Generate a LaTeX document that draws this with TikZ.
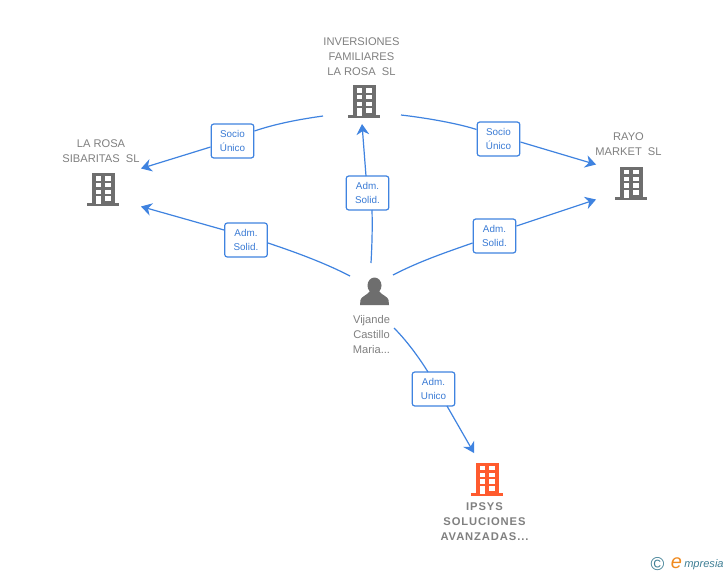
\documentclass[tikz,border=0pt]{standalone}
\usepackage{fontspec}
\setmainfont{Liberation Sans}
\usetikzlibrary{arrows.meta}
\definecolor{linkblue}{HTML}{3F83E0}
\definecolor{labblue}{HTML}{3A7BD5}
\definecolor{icongrey}{HTML}{6E6E6E}
\definecolor{txtgrey}{HTML}{808080}
\definecolor{iconred}{HTML}{FF5B2E}
\definecolor{logoteal}{HTML}{3F7F95}
\definecolor{logoorange}{HTML}{F08A1E}
\tikzset{
  x=0.75pt,y=-0.75pt,
  link/.style={draw=linkblue,line width=0.9pt},
  linkarrow/.style={link,-{Stealth[length=8pt,width=9.5pt,inset=2.6pt]}},
  labbox/.style={draw=linkblue,fill=white,rounded corners=2pt,line width=0.9pt,minimum width=32pt,minimum height=25.5pt,inner sep=0pt,align=center,text=labblue,font=\fontsize{7.4}{11.2}\selectfont,execute at begin node={\rule{0pt}{7pt}}},
  nametext/.style={align=center,text=txtgrey,inner sep=0pt,font=\fontsize{8.35}{11.3}\selectfont},
  boldtext/.style={align=center,text=txtgrey,inner sep=0pt,font=\fontsize{8.4}{11.3}\selectfont\bfseries\addfontfeature{LetterSpace=8}},
  iconbox/.style={minimum width=24pt,minimum height=26pt,inner sep=0pt},
  pics/building/.style={code={
    \fill[#1] (-11.5,-16) rectangle (11.5,15);
    \fill[#1] (-16,14) rectangle (16,17);
    \foreach \yy in {-12.7,-6,0.7}{
      \fill[white] (-7.5,\yy) rectangle (-2,\yy+4.4);
      \fill[white] (2,\yy) rectangle (7.5,\yy+4.4);
    }
    \fill[white] (-7.5,7.3) rectangle (-2,15);
    \fill[white] (2,7.3) rectangle (7.5,12.3);
  }},
}
\begin{document}
\begin{tikzpicture}
\useasboundingbox (0,0) rectangle (728,575);
\fill[white] (0,0) rectangle (728,575);

% icons
\pic at (364,101) {building=icongrey};
\pic at (103,189) {building=icongrey};
\pic at (631,182.5) {building=icongrey};
\pic at (487,478.5) {building=iconred};
\fill[icongrey] (374.5,285.5) ellipse (7 and 8);
\fill[icongrey] (360,305) -- (360.5,300) .. controls (361,296.5) and (367,295.5) .. (370,291) -- (379,291) .. controls (382,295.5) and (388,296.5) .. (388.5,300) -- (389,305) -- cycle;

\node[iconbox] (inv) at (364,101) {};
\node[iconbox] (lar) at (103,189) {};
\node[iconbox] (ray) at (631,182.5) {};
\node[iconbox] (ips) at (487,478.5) {};
\node[iconbox] (per) at (374,291) {};

% names
\node[nametext] (tinv) at (361.5,56.5) {INVERSIONES\\FAMILIARES\\LA ROSA\ \ SL};
\node[nametext] (tlar) at (101,151) {LA ROSA\\SIBARITAS\ \ SL};
\node[nametext] (tray) at (628.5,144) {RAYO\\MARKET\ \ SL};
\node[nametext] (tper) at (371.5,334.5) {Vijande\\Castillo\\Maria...};
\node[boldtext] (tips) at (484.5,522) {IPSYS\\SOLUCIONES\\AVANZADAS...};

% label boxes
\node[labbox] (l1) at (232.5,141) {Socio\\Único};
\node[labbox] (l2) at (498.5,139) {Socio\\Único};
\node[labbox] (l3) at (367.5,193) {Adm.\\Solid.};
\node[labbox] (l4) at (246,240) {Adm.\\Solid.};
\node[labbox] (l5) at (494.5,236) {Adm.\\Solid.};
\node[labbox] (l6) at (433.5,389) {Adm.\\Unico};

% free ends
\coordinate (s1) at (323,116);
\coordinate (e1) at (141,168.5);
\coordinate (s2) at (401,115);
\coordinate (e2) at (596,164.5);
\coordinate (s3) at (371,263);
\coordinate (e3) at (362,124);
\coordinate (s4) at (350,276);
\coordinate (e4) at (141,206.5);
\coordinate (s5) at (393,275);
\coordinate (e5) at (596,199.5);
\coordinate (s6) at (394,328);
\coordinate (e6) at (474,453);

% connectors
\draw[link] (s1) .. controls (298,119.5) and (275,124) .. (l1.east |- 0,131);
\draw[linkarrow] (l1.west |- 0,147) -- (e1);
\draw[link] (s2) .. controls (427,118) and (458,123.5) .. (l2.west |- 0,129.5);
\draw[linkarrow] (l2.east |- 0,142) -- (e2);
\draw[link] (s3) .. controls (372,245) and (372.5,228) .. (372,210);
\draw[linkarrow] (366,176) -- (e3);
\draw[link] (s4) .. controls (325,263) and (295,252) .. (l4.east |- 0,243);
\draw[linkarrow] (l4.west |- 0,230) -- (e4);
\draw[link] (s5) .. controls (420,261) and (447,252) .. (l5.west |- 0,243);
\draw[linkarrow] (l5.east |- 0,226) -- (e5);
\draw[link] (s6) .. controls (406,340) and (418,356) .. (428,372);
\draw[linkarrow] (447,406) -- (e6);

% logo
\node[inner sep=0pt,text=logoteal,font=\fontsize{14}{14}\selectfont] (copy) at (657.5,564) {©};
\node[inner sep=0pt,anchor=west,text=logoorange,font=\fontsize{15}{15}\selectfont\itshape] (loge) at (670.5,563) {e};
\node[inner sep=0pt,anchor=west,text=logoteal,font=\fontsize{8.3}{10}\selectfont\itshape] (logt) at (684,564.5) {mpresia};
\end{tikzpicture}
\end{document}
